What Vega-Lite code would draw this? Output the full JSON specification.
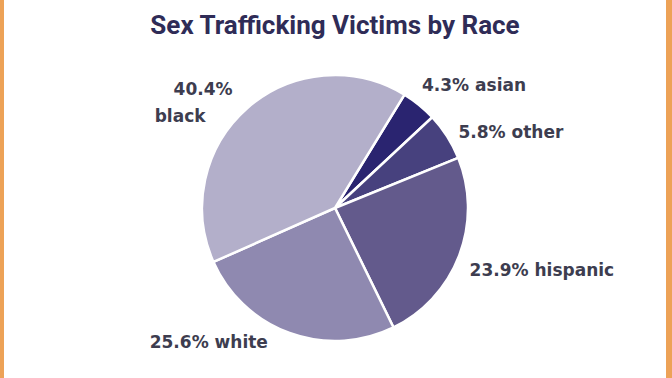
{
  "$schema": "https://vega.github.io/schema/vega-lite/v6.json",
  "width": 662,
  "height": 416,
  "autosize": "none",
  "padding": {"left": 4, "right": 6, "top": 0, "bottom": 0},
  "background": "#eda257",
  "view": {"fill": "#ffffff", "stroke": null},
  "title": {
    "text": "Sex Trafficking Victims by Race",
    "font": "Roboto",
    "fontSize": 26,
    "fontWeight": "bold",
    "color": "#2f2c57",
    "anchor": "middle",
    "orient": "top",
    "baseline": "alphabetic",
    "offset": -60
  },
  "data": {
    "values": [
      {"race": "asian", "pct": 4.3, "order": 1},
      {"race": "other", "pct": 5.8, "order": 2},
      {"race": "hispanic", "pct": 23.9, "order": 3},
      {"race": "white", "pct": 25.6, "order": 4},
      {"race": "black", "pct": 40.4, "order": 5}
    ]
  },
  "transform": [
    {"stack": "pct", "groupby": [], "sort": [{"field": "order"}], "as": ["v0", "v1"]},
    {"calculate": "(datum.v0 + datum.v1) / 2", "as": "mid"},
    {"calculate": "format(datum.pct, '.1f') + '% ' + datum.race", "as": "label"},
    {"calculate": "format(datum.pct, '.1f') + '%'", "as": "pctlabel"}
  ],
  "layer": [
    {
      "mark": {"type": "arc", "outerRadius": 133, "stroke": "#ffffff", "strokeWidth": 2.5},
      "encoding": {
        "theta": {"field": "v0", "type": "quantitative", "stack": null, "scale": {"domain": [0, 100], "range": [0.5498, 6.833]}},
        "theta2": {"field": "v1"},
        "color": {
          "field": "race", "type": "nominal", "legend": null,
          "scale": {"domain": ["asian", "other", "hispanic", "white", "black"], "range": ["#2a2470", "#47417e", "#635a8c", "#8f89b0", "#b3afca"]}
        }
      }
    },
    {
      "transform": [{"filter": "datum.race == 'asian'"}],
      "mark": {"type": "text", "radius": 185, "dx": 22, "dy": 21, "font": "DejaVu Sans", "fontSize": 17, "fontWeight": "bold", "color": "#3d3d4f"},
      "encoding": {"theta": {"field": "mid", "type": "quantitative", "stack": null}, "text": {"field": "label"}}
    },
    {
      "transform": [{"filter": "datum.race == 'other'"}],
      "mark": {"type": "text", "radius": 185, "dx": 20, "dy": 25, "font": "DejaVu Sans", "fontSize": 17, "fontWeight": "bold", "color": "#3d3d4f"},
      "encoding": {"theta": {"field": "mid", "type": "quantitative", "stack": null}, "text": {"field": "label"}}
    },
    {
      "transform": [{"filter": "datum.race == 'hispanic'"}],
      "mark": {"type": "text", "radius": 185, "dx": 34, "dy": -3, "font": "DejaVu Sans", "fontSize": 17, "fontWeight": "bold", "color": "#3d3d4f"},
      "encoding": {"theta": {"field": "mid", "type": "quantitative", "stack": null}, "text": {"field": "label"}}
    },
    {
      "transform": [{"filter": "datum.race == 'white'"}],
      "mark": {"type": "text", "radius": 185, "dx": -63, "dy": -39, "font": "DejaVu Sans", "fontSize": 17, "fontWeight": "bold", "color": "#3d3d4f"},
      "encoding": {"theta": {"field": "mid", "type": "quantitative", "stack": null}, "text": {"field": "label"}}
    },
    {
      "transform": [{"filter": "datum.race == 'black'"}],
      "mark": {"type": "text", "radius": 185, "dx": -10, "dy": 21, "font": "DejaVu Sans", "fontSize": 17, "fontWeight": "bold", "color": "#3d3d4f"},
      "encoding": {"theta": {"field": "mid", "type": "quantitative", "stack": null}, "text": {"field": "pctlabel"}}
    },
    {
      "transform": [{"filter": "datum.race == 'black'"}],
      "mark": {"type": "text", "radius": 185, "dx": -33, "dy": 48, "font": "DejaVu Sans", "fontSize": 17, "fontWeight": "bold", "color": "#3d3d4f"},
      "encoding": {"theta": {"field": "mid", "type": "quantitative", "stack": null}, "text": {"field": "race"}}
    }
  ]
}
